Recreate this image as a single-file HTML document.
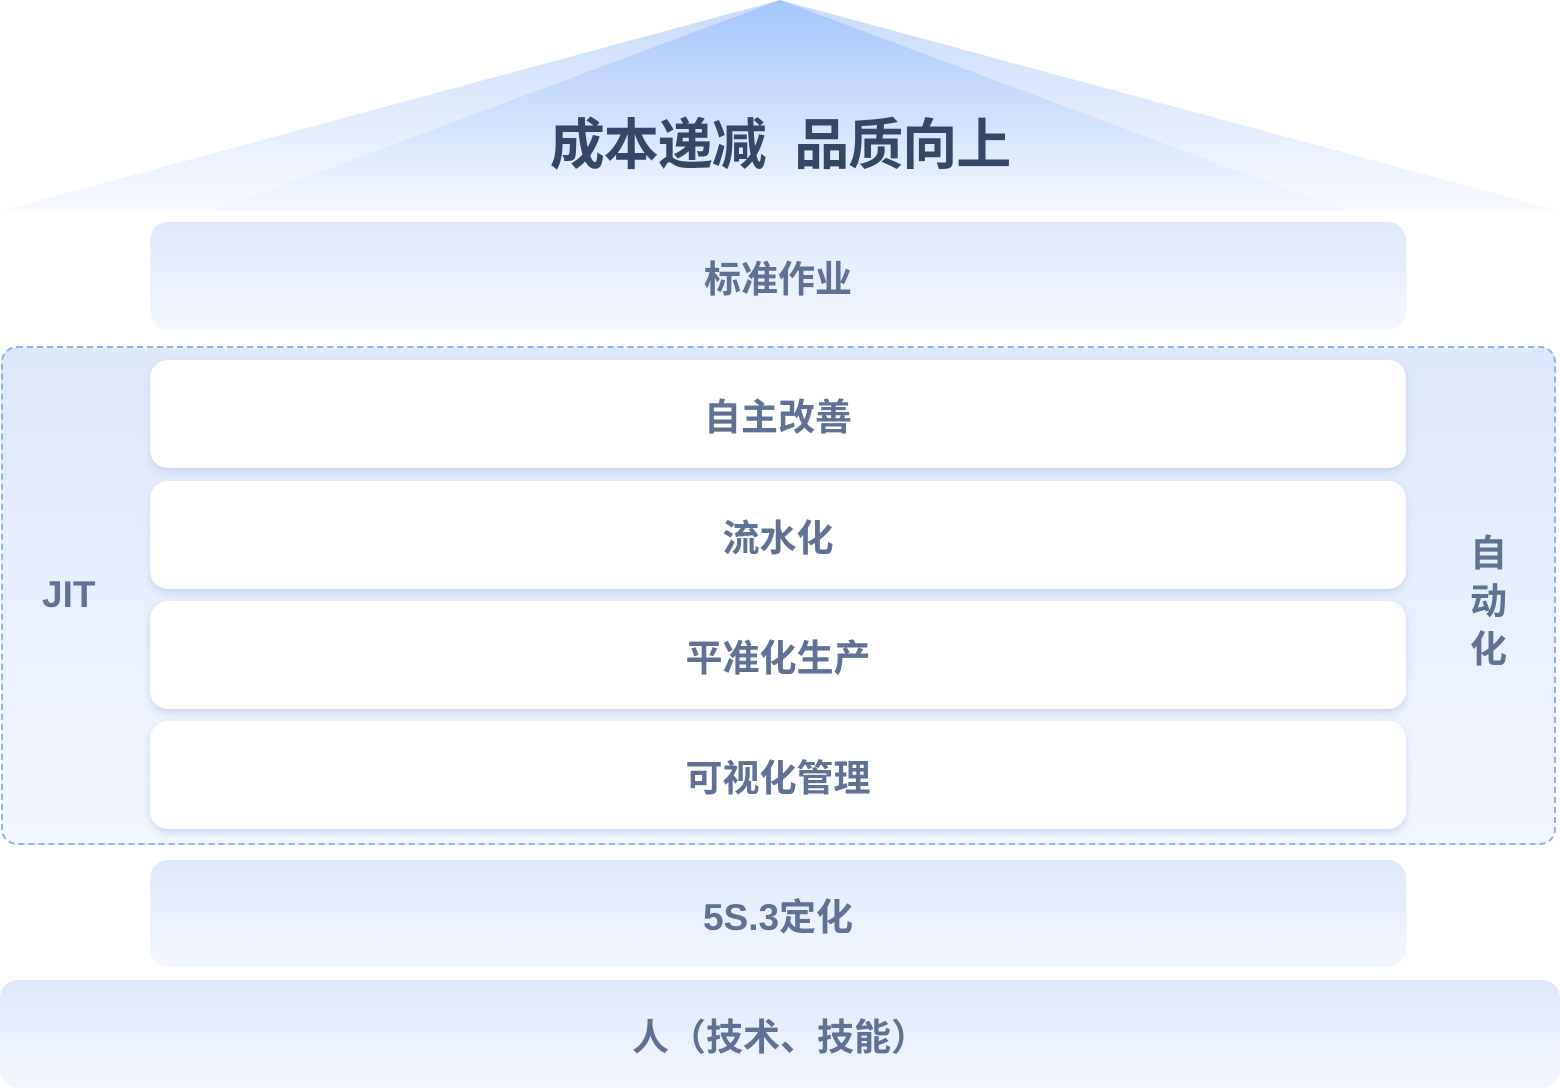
<!DOCTYPE html>
<html><head><meta charset="utf-8"><style>
body{margin:0;width:1560px;height:1089px;background:#fff;position:relative;overflow:hidden;font-family:"Liberation Sans","Noto Sans CJK SC",sans-serif;font-weight:bold}
.b{position:absolute;border-radius:18px;display:flex;align-items:center;justify-content:center;color:#5f7194;font-size:37px}
.g{background:linear-gradient(#dfe8fb,#f3f7fe)}
.w{background:#fff;box-shadow:0 4px 8px rgba(150,170,210,0.35)}
.t{position:absolute;color:#5f7194;font-size:37px}
</style></head><body>
<svg width="1560" height="212" style="position:absolute;left:0;top:0">
<defs>
<linearGradient id="o" x1="0" y1="0" x2="0" y2="1"><stop offset="0" stop-color="#c8dbfb"/><stop offset="1" stop-color="#f7f9fe"/></linearGradient>
<linearGradient id="i" x1="0" y1="0" x2="0" y2="1"><stop offset="0" stop-color="#a3c6fb"/><stop offset="1" stop-color="#f4f7fe"/></linearGradient>
</defs>
<polygon points="0,211 780,0 1560,211" fill="url(#o)"/>
<polygon points="215,211 780,0 1345,211" fill="url(#i)"/>
</svg>
<div style="position:absolute;left:0;width:1560px;top:110px;text-align:center;font-size:55px;line-height:70px;color:#334766;letter-spacing:-1px">成本递减&nbsp;&nbsp;品质向上</div>
<div class="b g" style="left:150px;top:222px;width:1256px;height:108px">标准作业</div>
<div style="position:absolute;left:1px;top:346px;width:1551px;height:495px;border:2px dashed #8cb1f5;border-radius:16px;background:linear-gradient(#dee8fb,#f2f6fe)"></div>
<div class="b w" style="left:150px;top:360px;width:1256px;height:108px">自主改善</div>
<div class="b w" style="left:150px;top:481px;width:1256px;height:108px">流水化</div>
<div class="b w" style="left:150px;top:601px;width:1256px;height:108px">平准化生产</div>
<div class="b w" style="left:150px;top:721px;width:1256px;height:108px">可视化管理</div>
<div class="t" style="left:42px;top:574px">JIT</div>
<div class="t" style="left:1470px;top:530px;width:37px;line-height:48px">自<br>动<br>化</div>
<div class="b g" style="left:150px;top:860px;width:1256px;height:107px">5S.3定化</div>
<div class="b g" style="left:0;top:980px;width:1560px;height:108px">人（技术、技能）</div>
</body></html>
